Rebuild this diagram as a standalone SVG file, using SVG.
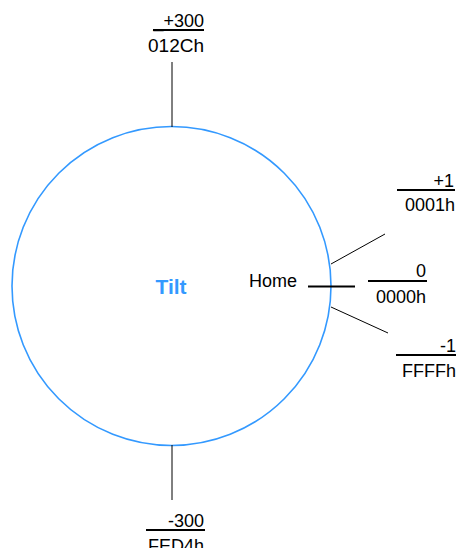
<svg xmlns="http://www.w3.org/2000/svg" width="457" height="548" viewBox="0 0 457 548">
<style>
text{font-family:"Liberation Sans",Arial,sans-serif;font-size:18px;fill:#000}
.r{text-anchor:end}
.c{text-anchor:middle}
.frac{stroke:#000;stroke-width:2}
.lead{stroke:#000;stroke-width:1}
</style>
<rect width="457" height="548" fill="#fff"/>
<g id="dial">
<circle cx="171.5" cy="286" r="159.5" fill="none" stroke="#3399ff" stroke-width="1.6"/>
<text x="171" y="294" class="c" style="font-weight:bold;font-size:21px;fill:#3399ff">Tilt</text>
</g>
<g id="connectors">
<line class="lead" x1="172" y1="62" x2="172" y2="127"/>
<line class="lead" x1="172" y1="445" x2="172" y2="500"/>
<line class="lead" x1="331" y1="264" x2="385" y2="234"/>
<line class="lead" x1="331" y1="307" x2="388" y2="333"/>
<line class="frac" x1="308" y1="286.5" x2="355" y2="286.5"/>
</g>
<g id="top-label">
<text x="204" y="27" class="r">_+300</text>
<line class="frac" x1="153" y1="30" x2="204" y2="30"/>
<text x="204" y="52" class="r" style="font-size:19px">012Ch</text>
</g>
<g id="plus1-label">
<text x="454" y="187" class="r">+1</text>
<line class="frac" x1="397" y1="190" x2="455" y2="190"/>
<text x="455" y="211" class="r">0001h</text>
</g>
<g id="home-label">
<text x="297" y="287" class="r">Home</text>
<text x="426" y="277" class="r">0</text>
<line class="frac" x1="368" y1="281" x2="427" y2="281"/>
<text x="426" y="303" class="r">0000h</text>
</g>
<g id="minus1-label">
<text x="456" y="352" class="r">-1</text>
<line class="frac" x1="396" y1="355" x2="456" y2="355"/>
<text x="456" y="377" class="r">FFFFh</text>
</g>
<g id="bottom-label">
<text x="204" y="527" class="r">-300</text>
<line class="frac" x1="146" y1="530" x2="205" y2="530"/>
<text x="204" y="552" class="r">FED4h</text>
</g>
</svg>
